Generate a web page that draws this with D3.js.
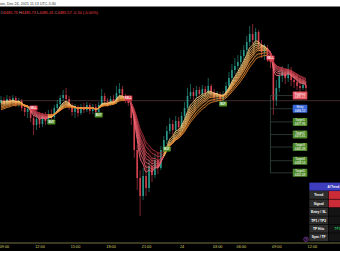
<!DOCTYPE html>
<html><head><meta charset="utf-8">
<script src="https://cdn.jsdelivr.net/npm/d3@7/dist/d3.min.js"></script>
<style>html,body{margin:0;padding:0;background:#fff;overflow:hidden}svg{display:block}</style>
</head><body><svg id="c" width="340" height="270"></svg>
<script>
// ---------- data ----------
const openP = [4487.4,4488.9,4486.9,4489.4,4487.9,4489.9,4486.9,4488.4,4484.9,4482.9,
4484.4,4479.9,4476.4,4479.4,4476.9,4480.9,4478.4,4481.9,4480.4,4484.9,
4486.9,4489.9,4491.4,4489.4,4485.9,4482.9,4484.9,4482.4,4485.4,4483.9,
4486.4,4483.4,4485.4,4482.9,4486.4,4490.9,4488.4,4486.9,4489.4,4487.9,
4492.4,4494.4,4490.4,4488.9,4487.4,4479.9,4463.9,4449.9,4440.9,4450.9,
4444.9,4455.9,4451.4,4458.9,4454.9,4463.9,4468.9,4473.4,4476.9,4473.9,
4478.4,4475.4,4480.9,4484.9,4490.9,4492.9,4490.9,4493.9,4491.9,4494.4,
4492.4,4495.9,4492.9,4490.4,4491.9,4489.4,4491.4,4495.9,4499.9,4503.9,
4505.9,4507.9,4510.9,4513.9,4517.9,4521.9,4518.9,4522.9,4516.9,4512.9,
4514.9,4510.9,4507.9,4488.9,4494.9,4500.9,4502.9,4499.9,4503.9,4498.9,
4497.9,4495.9,4494.9,4496.4];
const highP = [4490.9,4490.4,4491.4,4490.9,4491.4,4490.9,4489.9,4489.4,4486.9,4485.9,
4485.4,4481.4,4481.9,4482.9,4482.4,4482.9,4483.9,4484.4,4486.4,4488.9,
4491.4,4493.9,4494.9,4490.9,4487.4,4486.9,4486.4,4486.9,4487.4,4487.9,
4487.4,4486.9,4486.9,4487.9,4494.4,4492.4,4489.9,4490.9,4491.4,4495.9,
4497.4,4495.9,4491.9,4490.4,4488.9,4481.4,4466.4,4453.9,4454.9,4456.4,
4458.9,4459.9,4461.9,4462.9,4465.9,4470.9,4475.9,4479.9,4478.9,4480.9,
4480.4,4482.9,4487.9,4494.9,4496.9,4494.9,4495.9,4495.4,4496.4,4495.9,
4499.9,4496.9,4494.4,4493.4,4492.9,4493.4,4497.9,4502.9,4506.9,4509.9,
4511.4,4513.9,4516.4,4520.9,4525.9,4526.9,4524.9,4523.9,4518.9,4516.9,
4516.4,4512.9,4509.9,4498.9,4503.9,4505.9,4504.9,4506.9,4505.4,4502.9,
4501.9,4499.9,4498.9,4498.4];
const lowP = [4486.4,4485.9,4485.9,4486.4,4486.9,4485.4,4485.4,4483.4,4480.9,4479.9,
4477.9,4471.4,4473.9,4474.9,4475.4,4476.4,4476.9,4478.4,4479.4,4483.4,
4485.4,4488.4,4487.4,4483.9,4480.9,4479.9,4480.4,4481.4,4482.4,4482.9,
4481.9,4481.9,4480.9,4481.4,4485.4,4486.9,4485.4,4485.9,4486.4,4486.9,
4490.4,4488.9,4487.4,4485.9,4476.4,4459.9,4443.9,4430.9,4438.9,4440.9,
4442.9,4447.9,4449.9,4451.9,4453.9,4462.4,4466.9,4471.9,4471.4,4472.4,
4473.4,4474.4,4479.4,4483.9,4489.4,4488.9,4489.9,4490.4,4490.4,4490.9,
4491.4,4490.9,4488.4,4487.9,4487.4,4487.9,4489.9,4494.4,4497.9,4501.9,
4503.9,4505.9,4508.9,4511.9,4515.9,4516.9,4515.9,4513.9,4509.9,4508.9,
4507.9,4504.9,4481.4,4485.9,4492.9,4497.9,4496.9,4497.9,4495.9,4494.9,
4493.9,4492.9,4493.9,4492.9];
const closeP = [4488.9,4486.9,4489.4,4487.9,4489.9,4486.9,4488.4,4484.9,4482.9,4484.4,
4479.9,4476.4,4479.4,4476.9,4480.9,4478.4,4481.9,4480.4,4484.9,4486.9,
4489.9,4491.4,4489.4,4485.9,4482.9,4484.9,4482.4,4485.4,4483.9,4486.4,
4483.4,4485.4,4482.9,4486.4,4490.9,4488.4,4486.9,4489.4,4487.9,4492.4,
4494.4,4490.4,4488.9,4487.4,4479.9,4463.9,4449.9,4440.9,4450.9,4444.9,
4455.9,4451.4,4458.9,4454.9,4463.9,4468.9,4473.4,4476.9,4473.9,4478.4,
4475.4,4480.9,4484.9,4490.9,4492.9,4490.9,4493.9,4491.9,4494.4,4492.4,
4495.9,4492.9,4490.4,4491.9,4489.4,4491.4,4495.9,4499.9,4503.9,4505.9,
4507.9,4510.9,4513.9,4517.9,4521.9,4518.9,4522.9,4516.9,4512.9,4514.9,
4510.9,4507.9,4488.9,4494.9,4500.9,4502.9,4499.9,4503.9,4498.9,4497.9,
4495.9,4494.9,4496.4,4494.9];

const emaLengths = [5,6,7,8,9,10,12,14];
const emaSeeds   = [4488.4,4487.65,4486.9,4486.4,4485.65,4484.9,4484.15,4483.4];

const signalIdx   = [11,17,33,43,56,75,91];
const signalType  = ["SELL","BUY","BUY","SELL","BUY","BUY","SELL"];
const signalPrice = [4484.9,4477.9,4481.4,4489.9,4464.4,4486.9,4509.9];

const levelNames  = ["Stoploss","Entry","Target1","Target2","Target3","Target4","Target5"];
const levelPrices = [4491.12,4484.53,4477.96,4471.61,4465.38,4458.53,4452.48];

const tickIdx    = [1,13,25,37,49,61,73,81,93,105];
const tickLabels = ["09:00","12:00","15:00","18:00","21:00","24","03:00","06:00","09:00","12:00"];

const tableTitle = "AI Trend";
const tableRows  = ["Trend","Signal","Entry / SL","TP1 / TP2","TP Hits","Sym / TF"];
const tableVals  = ["","","","","TP1",""];

const refPrice = 4488.55;
const headerTop = "ion, Dec 24, 2025 11:13 UTC-5:30";
const ohlcLabels = ["O","H","L","C"];
const ohlcValues = ["4485.73","4485.73","4485.41","4485.57"];
const ohlcChange = "-0.10 (-0.00%)";

// ---------- drawing ----------
const W = 340, H = 270, plotTop = 7, plotBottom = 243;
const svg = d3.select("#c");
const N = closeP.length;
const x = d3.scaleLinear().domain([0, 114.5]).range([1, 340]);
const y = d3.scaleLinear().domain([4417.4, 4535.4]).range([plotBottom, plotTop]);
const FONT = "Liberation Sans, Arial, sans-serif";

svg.append("rect").attr("width", W).attr("height", H).attr("fill", "#fff");
svg.append("rect").attr("x", 0).attr("y", 6.5).attr("width", W).attr("height", 244.5).attr("fill", "#000");

svg.append("text").attr("x", 0).attr("y", 4.6).attr("font-family", FONT)
  .attr("font-size", 3.7).attr("fill", "#333").text(headerTop);

const hdr = svg.append("text").attr("x", 0.5).attr("y", 13.6)
  .attr("font-family", FONT).attr("font-size", 3.95);
ohlcLabels.forEach((l, i) => {
  hdr.append("tspan").attr("fill", "#d98c8c").text((i ? " " : "") + l);
  hdr.append("tspan").attr("fill", "#f0404e").text(ohlcValues[i]);
});
hdr.append("tspan").attr("fill", "#f0404e").text(" " + ohlcChange);

svg.append("clipPath").attr("id", "clip").append("rect")
  .attr("x", 0).attr("y", plotTop).attr("width", W).attr("height", plotBottom - plotTop);
const plot = svg.append("g").attr("clip-path", "url(#clip)");

// reference price line
plot.append("line").attr("x1", 0).attr("x2", W).attr("y1", y(refPrice)).attr("y2", y(refPrice))
  .attr("stroke", "#6b4a4c").attr("stroke-width", 0.6);

// candles
const idx = d3.range(N);
const upC = "#2a9a8c", dnC = "#d4424f";
const cg = plot.append("g");
cg.selectAll("line").data(idx).join("line")
  .attr("x1", i => x(i)).attr("x2", i => x(i))
  .attr("y1", i => y(highP[i])).attr("y2", i => y(lowP[i]))
  .attr("stroke", i => closeP[i] >= openP[i] ? upC : dnC).attr("stroke-width", 0.6);
cg.selectAll("rect").data(idx).join("rect")
  .attr("x", i => x(i) - 0.8).attr("width", 1.6)
  .attr("y", i => y(Math.max(openP[i], closeP[i])))
  .attr("height", i => Math.max(0.6, Math.abs(y(openP[i]) - y(closeP[i]))))
  .attr("fill", i => closeP[i] >= openP[i] ? upC : dnC);

// EMA ribbon
const emas = emaLengths.map((len, k) => {
  const a = 2 / (len + 1); let prev = emaSeeds[k];
  return closeP.map(c => (prev = a * c + (1 - a) * prev));
});
const trend = idx.map(i => {
  let t = "BUY";
  signalIdx.forEach((s, j) => { if (s <= i) t = signalType[j]; });
  return t;
});
const runs = [];
idx.forEach(i => {
  if (!runs.length || runs[runs.length - 1].t !== trend[i]) runs.push({ t: trend[i], s: i, e: i });
  else runs[runs.length - 1].e = i;
});
const nL = emaLengths.length;
const upCol = d3.interpolateRgb("#ffd889", "#e8842a");
const dnCol = d3.interpolateRgb("#ff7482", "#b0303e");
const rg = plot.append("g");
runs.forEach(r => {
  const s = Math.max(0, r.s - 1), pts = d3.range(s, r.e + 1);
  const area = d3.area().x(i => x(i)).y0(i => y(emas[0][i])).y1(i => y(emas[nL - 1][i])).curve(d3.curveMonotoneX);
  rg.append("path").attr("d", area(pts)).attr("fill", r.t === "BUY" ? "#f0a040" : "#d8404e").attr("opacity", 0.12);
  emas.forEach((e, k) => {
    const line = d3.line().x(i => x(i)).y(i => y(e[i])).curve(d3.curveMonotoneX);
    rg.append("path").attr("d", line(pts)).attr("fill", "none")
      .attr("stroke", (r.t === "BUY" ? upCol : dnCol)(k / (nL - 1))).attr("stroke-width", 0.85);
  });
});

// target / stop structure
const lx = x(N - 3);
const vx = x(signalIdx[signalIdx.length - 1]);
const lg = plot.append("g");
lg.append("line").attr("x1", vx).attr("x2", vx)
  .attr("y1", y(levelPrices[0])).attr("y2", y(levelPrices[levelPrices.length - 1]))
  .attr("stroke", "#2f5a50").attr("stroke-width", 0.7);
levelPrices.forEach((p, i) => {
  lg.append("line").attr("x1", vx).attr("x2", lx - 7.3).attr("y1", y(p)).attr("y2", y(p))
    .attr("stroke", "#3c4c46").attr("stroke-width", 0.7);
});

// signal labels
const sg = plot.append("g").attr("font-family", FONT);
signalIdx.forEach((s, j) => {
  const cx = x(s), cy = y(signalPrice[j]);
  sg.append("rect").attr("x", cx - 4).attr("y", cy - 2.6).attr("width", 8).attr("height", 5.2).attr("rx", 0.8)
    .attr("fill", signalType[j] === "BUY" ? "#4e8f2a" : "#e23f4e");
  sg.append("text").attr("x", cx).attr("y", cy + 1).attr("text-anchor", "middle")
    .attr("font-size", 2.7).attr("font-weight", "bold").attr("fill", "#fff").text(signalType[j]);
});

// level labels
const lvColor = n => n === "Stoploss" ? "#e4505c" : n === "Entry" ? "#3868d8" : "#4f8a2b";
levelPrices.forEach((p, i) => {
  const cy = y(p);
  sg.append("rect").attr("x", lx - 7.3).attr("y", cy - 4).attr("width", 14.6).attr("height", 8).attr("rx", 0.8)
    .attr("fill", lvColor(levelNames[i]));
  sg.append("text").attr("x", lx).attr("y", cy - 0.6).attr("text-anchor", "middle")
    .attr("font-size", 2.9).attr("fill", "#fff").text(levelNames[i]);
  sg.append("text").attr("x", lx).attr("y", cy + 2.9).attr("text-anchor", "middle")
    .attr("font-size", 2.9).attr("fill", "#fff").text(p.toFixed(2));
});

// table
const tg = svg.append("g").attr("font-family", FONT);
const tx = 309.3, ty = 182.6, rh = 8.45;
tg.append("rect").attr("x", tx).attr("y", ty).attr("width", W - tx).attr("height", rh - 0.4).attr("fill", "#3d3dbd");
tg.append("text").attr("x", 327.5).attr("y", ty + 5.2).attr("font-size", 3.2).attr("font-weight", "bold")
  .attr("textLength", 11.8).attr("lengthAdjust", "spacingAndGlyphs")
  .attr("fill", "#fff").text(tableTitle);
tableRows.forEach((r, i) => {
  const ry = ty + rh * (i + 1);
  tg.append("rect").attr("x", tx).attr("y", ry).attr("width", 18.8).attr("height", rh - 0.6).attr("fill", "#2e2e2e");
  tg.append("text").attr("x", tx + 9.4).attr("y", ry + 5.1).attr("text-anchor", "middle")
    .attr("font-size", 3.3).attr("font-weight", "bold").attr("fill", "#fff").text(r);
  const red = i < 2;
  tg.append("rect").attr("x", tx + 19.4).attr("y", ry).attr("width", W - tx - 19.4).attr("height", rh - 0.6)
    .attr("fill", red ? "#cc2b38" : "#141414");
  if (tableVals[i]) tg.append("text").attr("x", 334.6).attr("y", ry + 5.1)
    .attr("font-size", 3.0).attr("font-weight", "bold").attr("fill", "#22c55e").text(tableVals[i]);
});
svg.append("circle").attr("cx", 306).attr("cy", 239.3).attr("r", 2.3)
  .attr("fill", "#1a0f24").attr("stroke", "#8a3fb0").attr("stroke-width", 0.6);
svg.append("text").attr("x", 306).attr("y", 240.6).attr("text-anchor", "middle").attr("font-size", 3)
  .attr("font-family", FONT).attr("fill", "#b070d0").text("?");

// x axis
const ax = svg.append("g").attr("transform", `translate(0,${plotBottom})`)
  .call(d3.axisBottom(x).tickValues(tickIdx).tickFormat((d, i) => tickLabels[i]).tickSize(0).tickPadding(2.6));
ax.select(".domain").attr("stroke", "#a9a860").attr("stroke-width", 0.7).attr("d", `M0,0H${W}`);
ax.selectAll("text").attr("fill", "#d8d070").attr("font-size", 3.8).attr("font-family", FONT);
</script></body></html>
